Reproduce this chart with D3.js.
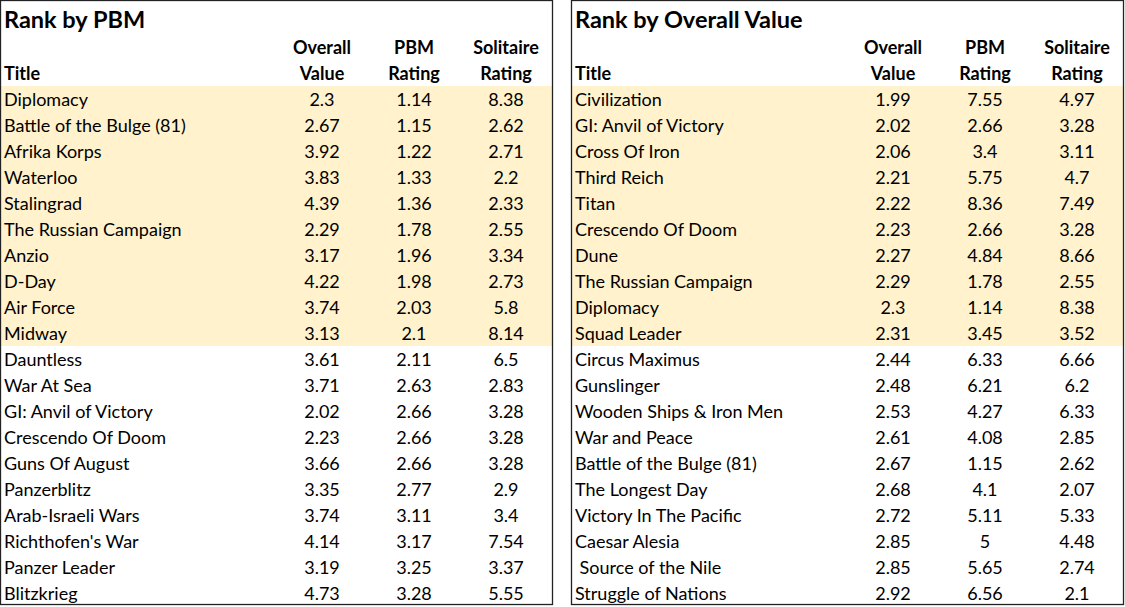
<!DOCTYPE html>
<html><head><meta charset="utf-8">
<script src="https://cdn.jsdelivr.net/npm/d3@7/dist/d3.min.js"></script>
<style>
html,body{margin:0;padding:0;background:#fff;}
svg{display:block;}
text{font-family:Lato,"Open Sans",sans-serif;fill:#000;}
</style></head><body>
<svg id="c" width="1125" height="607"></svg>
<script>
const columnHeaders = [["", "Title"], ["Overall", "Value"], ["PBM", "Rating"], ["Solitaire", "Rating"]];

const pbmTitle = "Rank by PBM";
const pbmTitles = ["Diplomacy","Battle of the Bulge (81)","Afrika Korps","Waterloo","Stalingrad","The Russian Campaign","Anzio","D-Day","Air Force","Midway","Dauntless","War At Sea","GI: Anvil of Victory","Crescendo Of Doom","Guns Of August","Panzerblitz","Arab-Israeli Wars","Richthofen's War","Panzer Leader","Blitzkrieg"];
const pbmOverall = ["2.3","2.67","3.92","3.83","4.39","2.29","3.17","4.22","3.74","3.13","3.61","3.71","2.02","2.23","3.66","3.35","3.74","4.14","3.19","4.73"];
const pbmPbm = ["1.14","1.15","1.22","1.33","1.36","1.78","1.96","1.98","2.03","2.1","2.11","2.63","2.66","2.66","2.66","2.77","3.11","3.17","3.25","3.28"];
const pbmSolo = ["8.38","2.62","2.71","2.2","2.33","2.55","3.34","2.73","5.8","8.14","6.5","2.83","3.28","3.28","3.28","2.9","3.4","7.54","3.37","5.55"];

const ovTitle = "Rank by Overall Value";
const ovTitles = ["Civilization","GI: Anvil of Victory","Cross Of Iron","Third Reich","Titan","Crescendo Of Doom","Dune","The Russian Campaign","Diplomacy","Squad Leader","Circus Maximus","Gunslinger","Wooden Ships & Iron Men","War and Peace","Battle of the Bulge (81)","The Longest Day","Victory In The Pacific","Caesar Alesia"," Source of the Nile","Struggle of Nations"];
const ovOverall = ["1.99","2.02","2.06","2.21","2.22","2.23","2.27","2.29","2.3","2.31","2.44","2.48","2.53","2.61","2.67","2.68","2.72","2.85","2.85","2.92"];
const ovPbm = ["7.55","2.66","3.4","5.75","8.36","2.66","4.84","1.78","1.14","3.45","6.33","6.21","4.27","4.08","1.15","4.1","5.11","5","5.65","6.56"];
const ovSolo = ["4.97","3.28","3.11","4.7","7.49","3.28","8.66","2.55","8.38","3.52","6.66","6.2","6.33","2.85","2.62","2.07","5.33","4.48","2.74","2.1"];

const highlightCount = 10;

const svg = d3.select("#c");

function panel(x0, title, titles, overall, pbm, solo) {
  const W = 552;
  const g = svg.append("g").attr("transform", `translate(${x0},0)`);
  const n = titles.length;
  const y = d3.scaleBand().domain(d3.range(n)).range([86, 86 + 26 * n]);
  const colX = d3.scaleOrdinal().domain([1,2,3]).range([322, 414, 506]);

  g.append("rect")
    .attr("x", 1).attr("y", y(0))
    .attr("width", W - 1).attr("height", y(highlightCount - 1) + y.bandwidth() - y(0))
    .attr("fill", "#FFF2CC");

  g.append("rect").attr("x", 0.5).attr("y", 0.5).attr("width", W).attr("height", 604)
    .attr("fill", "none").attr("stroke", "#222").attr("stroke-width", 1.3);

  g.append("text").attr("x", 4).attr("y", 28)
    .attr("font-size", 23.5).attr("font-weight", "bold").text(title);

  columnHeaders.forEach((h, i) => {
    h.forEach((line, j) => {
      if (!line) return;
      g.append("text")
        .attr("x", i === 0 ? 4 : colX(i))
        .attr("y", j === 0 ? 54 : 80)
        .attr("text-anchor", i === 0 ? "start" : "middle")
        .attr("font-size", 18).attr("font-weight", "bold")
        .text(line);
    });
  });

  const rows = d3.range(n).map(i => [titles[i], overall[i], pbm[i], solo[i]]);
  const rg = g.selectAll("g.row").data(rows).join("g").attr("class", "row")
    .attr("transform", (d, i) => `translate(0,${y(i) + y.bandwidth() / 2})`);
  rg.selectAll("text").data(d => d).join("text")
    .attr("x", (d, i) => i === 0 ? 4 : colX(i))
    .attr("y", 6.5)
    .attr("text-anchor", (d, i) => i === 0 ? "start" : "middle")
    .attr("font-size", 18)
    .attr("xml:space", "preserve")
    .style("white-space", "pre")
    .text(d => d);
}

panel(0, pbmTitle, pbmTitles, pbmOverall, pbmPbm, pbmSolo);
panel(571, ovTitle, ovTitles, ovOverall, ovPbm, ovSolo);
</script></body></html>
